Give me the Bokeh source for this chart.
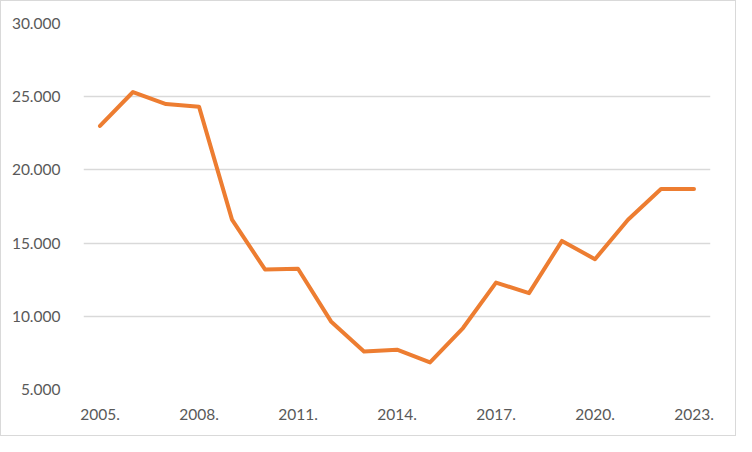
from bokeh.plotting import figure
from bokeh.models import Range1d, FixedTicker, CustomJSTickFormatter
from bokeh.embed import file_html
from bokeh.resources import INLINE

years = list(range(2005, 2024))
values = [23000, 25320, 24500, 24320, 16600, 13200, 13250, 9650, 7600, 7720,
          6850, 9200, 12300, 11580, 15150, 13900, 16600, 18700, 18700]
x_ticks = [2005, 2008, 2011, 2014, 2017, 2020, 2023]
y_ticks = [5000, 10000, 15000, 20000, 25000, 30000]

p = figure(width=736, height=436, output_backend="svg", toolbar_location=None,
           x_range=Range1d(2004.5, 2023.5), y_range=Range1d(5000, 30000),
           min_border_left=82, min_border_right=27, min_border_top=22, min_border_bottom=48)
p.styles = {"border": "1px solid #D9D9D9", "box-sizing": "border-box"}
p.outline_line_color = None
p.background_fill_color = "white"
p.border_fill_color = "white"

p.line(years, values, line_color="#ED7D31", line_width=4, line_join="round", line_cap="round")

for ax in (p.xaxis[0], p.yaxis[0]):
    ax.axis_line_color = None
    ax.major_tick_line_color = None
    ax.minor_tick_line_color = None
    ax.major_label_text_font = "Lato"
    ax.major_label_text_font_size = "15.5px"
    ax.major_label_text_color = "#595959"

p.xaxis.ticker = FixedTicker(ticks=x_ticks)
p.xaxis.formatter = CustomJSTickFormatter(code="return tick + '.';")
p.xaxis.major_label_standoff = 13
p.yaxis.ticker = FixedTicker(ticks=y_ticks)
p.yaxis.formatter = CustomJSTickFormatter(code="return (tick/1000).toFixed(3);")
p.yaxis.major_label_standoff = 17

p.xgrid.grid_line_color = None
p.ygrid.grid_line_color = "#D9D9D9"
p.ygrid.grid_line_width = 1.5

open("out.html", "w").write(file_html(p, INLINE))
